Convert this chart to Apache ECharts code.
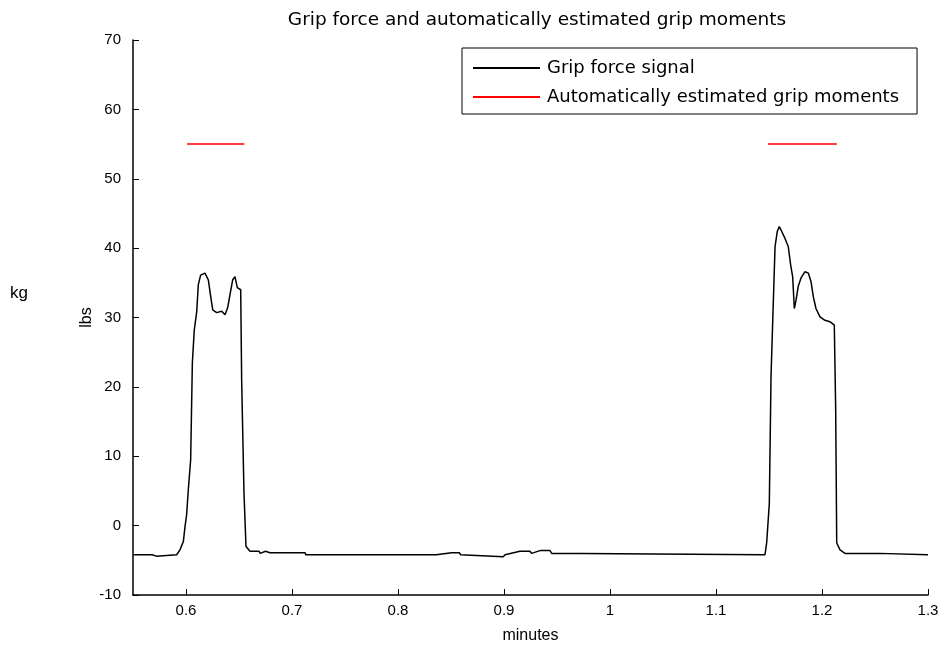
<!DOCTYPE html>
<html>
<head>
<meta charset="utf-8">
<script src="https://cdn.jsdelivr.net/npm/echarts@6/dist/echarts.min.js"></script>
<style>
html,body{margin:0;padding:0;background:#fff;}
#chart{width:947px;height:652px;}
</style>
</head>
<body>
<div id="chart"></div>
<script>
// ---- data ----
var titleText = 'Grip force and automatically estimated grip moments';
var xTicks = [0.6, 0.7, 0.8, 0.9, 1.0, 1.1, 1.2, 1.3];
var yTicks = [-10, 0, 10, 20, 30, 40, 50, 60, 70];

// Grip force signal (minutes, lbs)
var signalTime = [
  0.5503, 0.5680, 0.5690, 0.5720, 0.5730, 0.5912, 0.5943, 0.5975, 0.5991, 0.6006,
  0.6022, 0.6044, 0.6060, 0.6078, 0.6101, 0.6116, 0.6138, 0.6179, 0.6211, 0.6233,
  0.6252, 0.6289, 0.6337, 0.6368, 0.6393, 0.6415, 0.6440, 0.6462, 0.6484, 0.6516,
  0.6525, 0.6547, 0.6566, 0.6604, 0.6690, 0.6700, 0.6750, 0.6792, 0.7123, 0.7130,
  0.8340, 0.8349, 0.8360, 0.8507, 0.8578, 0.8590, 0.8993, 0.9010, 0.9150, 0.9245,
  0.9260, 0.9340, 0.9434, 0.9450, 0.9639, 0.9650, 0.9733, 0.9745, 1.1462, 1.1478,
  1.1503, 1.1519, 1.1535, 1.1557, 1.1578, 1.1597, 1.1620, 1.1651, 1.1682, 1.1704,
  1.1723, 1.1739, 1.1755, 1.1776, 1.1802, 1.1840, 1.1871, 1.1896, 1.1918, 1.1943,
  1.1981, 1.2028, 1.2075, 1.2116, 1.2129, 1.2139, 1.2170, 1.2217, 1.2540, 1.2550,
  1.3000
];
var signalForce = [
  -4.2, -4.2, -4.4, -4.4, -4.2, -4.2, -3.5, -2.3, -0.1, 1.6,
  5.2, 9.5, 23.5, 28.2, 30.8, 34.7, 36.1, 36.4, 35.4, 33.0,
  31.1, 30.7, 30.9, 30.4, 31.4, 33.3, 35.4, 35.9, 34.3, 34.0,
  21.0, 4.7, -3.0, -3.7, -3.7, -4.0, -3.7, -3.9, -3.9, -4.2,
  -4.2, -4.0, -4.2, -3.9, -3.9, -4.2, -4.5, -4.2, -3.7, -3.7,
  -4.0, -3.6, -3.6, -4.0, -4.0, -4.2, -4.0, -4.2, -4.2, -2.5,
  3.2, 21.5, 29.4, 40.2, 42.4, 43.1, 42.4, 41.4, 40.2, 37.6,
  35.9, 31.3, 32.5, 34.5, 35.7, 36.6, 36.4, 35.2, 33.0, 31.3,
  30.1, 29.6, 29.4, 28.9, 16.9, -2.5, -3.5, -4.0, -4.0, -4.2,
  -4.2
];

// Automatically estimated grip moments
var momentStart = [0.601, 1.149];
var momentEnd = [0.655, 1.214];
var momentLevel = [55, 55];

// ---- build chart ----
var signalData = signalTime.map(function (t, i) { return [t, signalForce[i]]; });

var FONT = 'Liberation Sans';
var series = [{
  name: 'Grip force signal',
  type: 'line',
  data: signalData,
  symbol: 'none',
  lineStyle: { color: '#000', width: 1.5 },
  itemStyle: { color: '#000' },
  animation: false,
  z: 2
}];
momentStart.forEach(function (s, i) {
  series.push({
    name: 'Automatically estimated grip moments',
    type: 'line',
    data: [[s, momentLevel[i]], [momentEnd[i], momentLevel[i]]],
    symbol: 'none',
    lineStyle: { color: '#ff0000', width: 1.5 },
    itemStyle: { color: '#ff0000' },
    animation: false,
    z: 3
  });
});

var chart = echarts.init(document.getElementById('chart'));
chart.setOption({
  animation: false,
  backgroundColor: '#fff',
  title: {
    text: titleText,
    left: 532,
    top: 6,
    textAlign: 'center',
    textStyle: { fontFamily: 'DejaVu Sans', fontSize: 18.5, fontWeight: 'normal', color: '#000' }
  },
  legend: {
    orient: 'vertical',
    left: 462,
    top: 48,
    padding: [11, 18, 8, 10],
    itemGap: 11,
    itemWidth: 67,
    itemHeight: 14,
    borderColor: '#000',
    borderWidth: 1,
    backgroundColor: '#fff',
    itemStyle: { opacity: 0 },
    data: ['Grip force signal', 'Automatically estimated grip moments'],
    textStyle: { fontFamily: 'DejaVu Sans', fontSize: 18, lineHeight: 18, color: '#000', padding: [0, 0, 0, 2] }
  },
  grid: { left: 133, right: 19, top: 40, bottom: 57, containLabel: false },
  xAxis: {
    type: 'value',
    min: 0.55,
    max: 1.3,
    name: 'minutes',
    nameLocation: 'middle',
    nameGap: 33,
    nameMoveOverlap: false,
    nameTextStyle: { fontFamily: FONT, fontSize: 16, color: '#000' },
    axisLine: { show: true, onZero: false, lineStyle: { color: '#000', width: 1.5 } },
    axisTick: { show: true, inside: true, length: 6, customValues: xTicks, lineStyle: { color: '#000' } },
    axisLabel: {
      customValues: xTicks,
      margin: 8,
      fontFamily: FONT, fontSize: 15, color: '#000',
      formatter: function (v) { return String(Math.round(v * 10) / 10); }
    },
    splitLine: { show: false }
  },
  yAxis: {
    type: 'value',
    min: -10,
    max: 70,
    interval: 10,
    name: 'lbs',
    nameLocation: 'middle',
    nameGap: 38,
    nameMoveOverlap: false,
    nameRotate: 90,
    nameTextStyle: { fontFamily: FONT, fontSize: 16, color: '#000' },
    axisLine: { show: true, onZero: false, lineStyle: { color: '#000', width: 1.5 } },
    axisTick: { show: true, inside: true, length: 6, lineStyle: { color: '#000' } },
    axisLabel: { margin: 12, fontFamily: FONT, fontSize: 15, color: '#000' },
    splitLine: { show: false }
  },
  graphic: [{
    type: 'text',
    left: 10,
    top: 285,
    style: { text: 'kg', font: '17px "Liberation Sans"', fill: '#000' }
  }],
  series: series
});
</script>
</body>
</html>
